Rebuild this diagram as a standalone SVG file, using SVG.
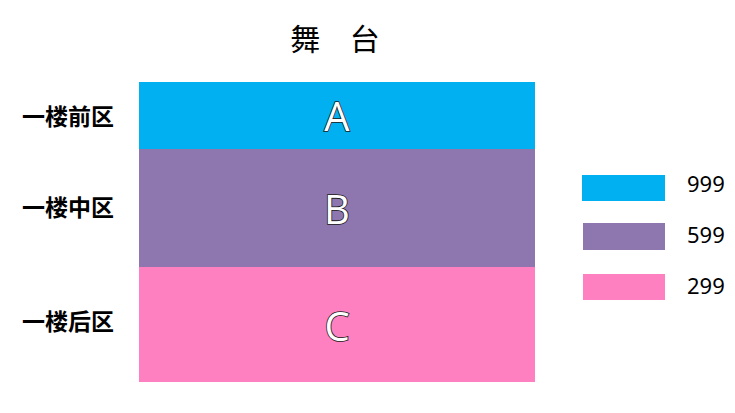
<svg xmlns="http://www.w3.org/2000/svg" width="735" height="413" viewBox="0 0 735 413">
  <style>
    .label { font-family: "Noto Sans CJK SC", "Noto Sans", sans-serif; font-size: 23px; font-weight: bold; fill: #000; }
    .title { font-family: "Noto Sans CJK SC", "Noto Sans", sans-serif; font-size: 30px; fill: #000; }
    .zone { font-family: "Open Sans", "Noto Sans", sans-serif; font-size: 40px; fill: #fff; stroke: #1a1a1a; stroke-width: 1.6px; paint-order: stroke fill; text-anchor: middle; }
    .price { font-family: "Noto Sans", "Open Sans", sans-serif; font-size: 22px; fill: #000; }
    .a { fill: #00B0F0; }
    .b { fill: #8E76AF; }
    .c { fill: #FF80C0; }
  </style>
  <rect width="735" height="413" fill="#fff"/>
  <g id="title">
    <text class="title" x="335" y="50" text-anchor="middle" word-spacing="23">舞 台</text>
  </g>
  <g id="zone-a">
    <rect class="a" x="139" y="82" width="396" height="67"/>
    <text class="zone" x="337" y="131">A</text>
    <text class="label" x="22" y="125">一楼前区</text>
  </g>
  <g id="zone-b">
    <rect class="b" x="139" y="149" width="396" height="118"/>
    <text class="zone" x="337" y="224">B</text>
    <text class="label" x="22" y="216">一楼中区</text>
  </g>
  <g id="zone-c">
    <rect class="c" x="139" y="267" width="396" height="115"/>
    <text class="zone" x="337" y="341">C</text>
    <text class="label" x="22" y="330">一楼后区</text>
  </g>
  <g id="legend-999">
    <rect class="a" x="582" y="175" width="83" height="26"/>
    <text class="price" x="687" y="192">999</text>
  </g>
  <g id="legend-599">
    <rect class="b" x="583" y="223" width="82" height="27"/>
    <text class="price" x="687" y="243">599</text>
  </g>
  <g id="legend-299">
    <rect class="c" x="583" y="274" width="82" height="26"/>
    <text class="price" x="687" y="294">299</text>
  </g>
  <g id="connectors"></g>
</svg>
